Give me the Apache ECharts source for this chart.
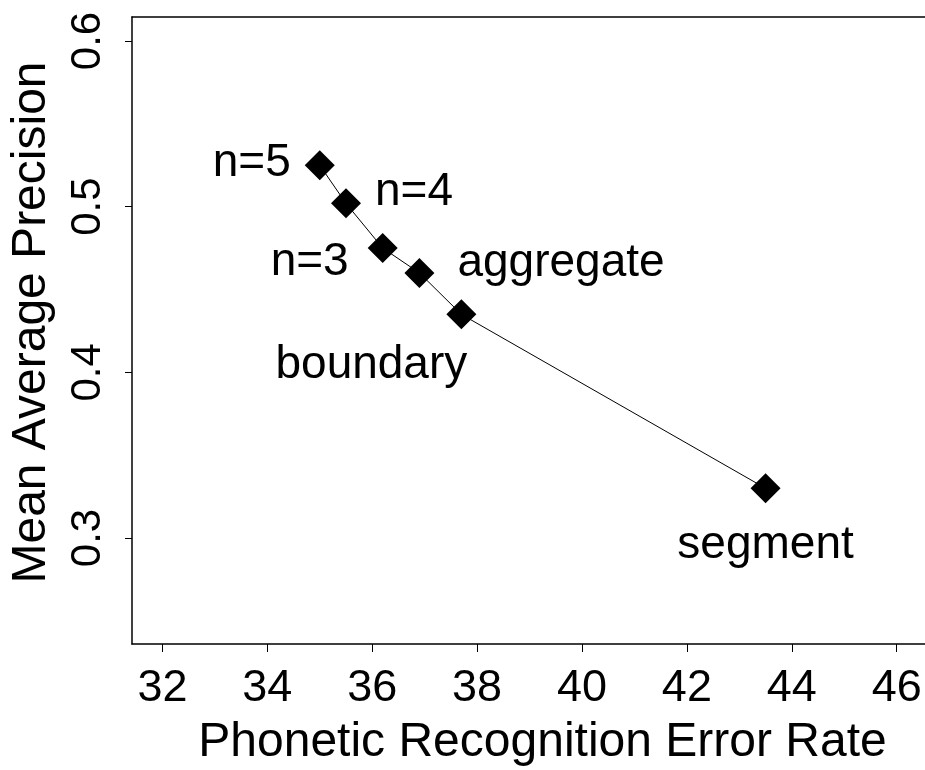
<!DOCTYPE html>
<html>
<head>
<meta charset="utf-8">
<script src="https://cdn.jsdelivr.net/npm/echarts@6/dist/echarts.min.js"></script>
<style>
html,body{margin:0;padding:0;background:#fff;}
#main{width:925px;height:770px;}
</style>
</head>
<body>
<div id="main"></div>
<script>
// data
var names = ['n=5', 'n=4', 'n=3', 'aggregate', 'boundary', 'segment'];
var errRate = [35.0, 35.5, 36.2, 36.9, 37.7, 43.5];
var meanAP = [0.525, 0.502, 0.475, 0.460, 0.435, 0.330];
var xTicks = [32, 34, 36, 38, 40, 42, 44, 46];
var yTicks = [0.3, 0.4, 0.5, 0.6];

// where each label sits relative to its point
var labelPos = [
    {position: 'left', offset: [-9, -2]},
    {position: 'right', offset: [9, -11]},
    {position: 'left', offset: [-14, 14]},
    {position: 'right', offset: [18, -10]},
    {position: 'bottom', offset: [-90, 8]},
    {position: 'bottom', offset: [0, 14]}
];

var FONT = 'Liberation Sans, Arial, sans-serif';
var X_MIN = 31.42, X_MAX = 46.54;

var seriesData = [];
for (var i = 0; i < names.length; i++) {
    seriesData.push({
        name: names[i],
        value: [errRate[i], meanAP[i]],
        label: {position: labelPos[i].position, offset: labelPos[i].offset}
    });
}

var chart = echarts.init(document.getElementById('main'));
var option = {
    backgroundColor: '#fff',
    animation: false,
    grid: {
        left: 132,
        top: 17,
        bottom: 126,
        right: 0,
        show: false,
        containLabel: false,
        outerBoundsMode: 'none'
    },
    xAxis: [{
        type: 'value',
        min: X_MIN,
        max: X_MAX,
        name: 'Phonetic Recognition Error Rate',
        nameLocation: 'middle',
        nameGap: 75,
        nameTextStyle: {fontFamily: FONT, fontSize: 48, color: '#000', padding: [0, 0, 0, 28]},
        axisLine: {show: true, onZero: false, lineStyle: {color: '#000', width: 1.5}},
        axisTick: {show: true, length: 8, customValues: xTicks, lineStyle: {color: '#000', width: 1}},
        axisLabel: {customValues: xTicks, margin: 22, fontFamily: FONT, fontSize: 45, color: '#000'},
        splitLine: {show: false}
    }, {
        // top frame line only
        type: 'value',
        position: 'top',
        min: X_MIN,
        max: X_MAX,
        axisLine: {show: true, onZero: false, lineStyle: {color: '#000', width: 1.5}},
        axisTick: {show: false},
        axisLabel: {show: false},
        splitLine: {show: false}
    }],
    yAxis: {
        type: 'value',
        min: 0.236,
        max: 0.6145,
        name: 'Mean Average Precision',
        nameLocation: 'middle',
        nameGap: 76,
        nameTextStyle: {fontFamily: FONT, fontSize: 48, color: '#000', padding: [0, 0, 0, 16]},
        axisLine: {show: true, onZero: false, lineStyle: {color: '#000', width: 1.5}},
        axisTick: {show: true, length: 7, customValues: yTicks, lineStyle: {color: '#000', width: 1}},
        axisLabel: {
            customValues: yTicks,
            rotate: 90,
            margin: 23,
            fontFamily: FONT,
            fontSize: 42,
            color: '#000',
            formatter: function (v) { return v.toFixed(1); }
        },
        splitLine: {show: false}
    },
    series: [{
        type: 'line',
        xAxisIndex: 0,
        data: seriesData,
        symbol: 'diamond',
        symbolSize: [30, 30],
        itemStyle: {color: '#000'},
        lineStyle: {color: '#000', width: 1},
        label: {
            show: true,
            formatter: '{b}',
            fontFamily: FONT,
            fontSize: 46,
            color: '#000'
        }
    }]
};
chart.setOption(option);
</script>
</body>
</html>
